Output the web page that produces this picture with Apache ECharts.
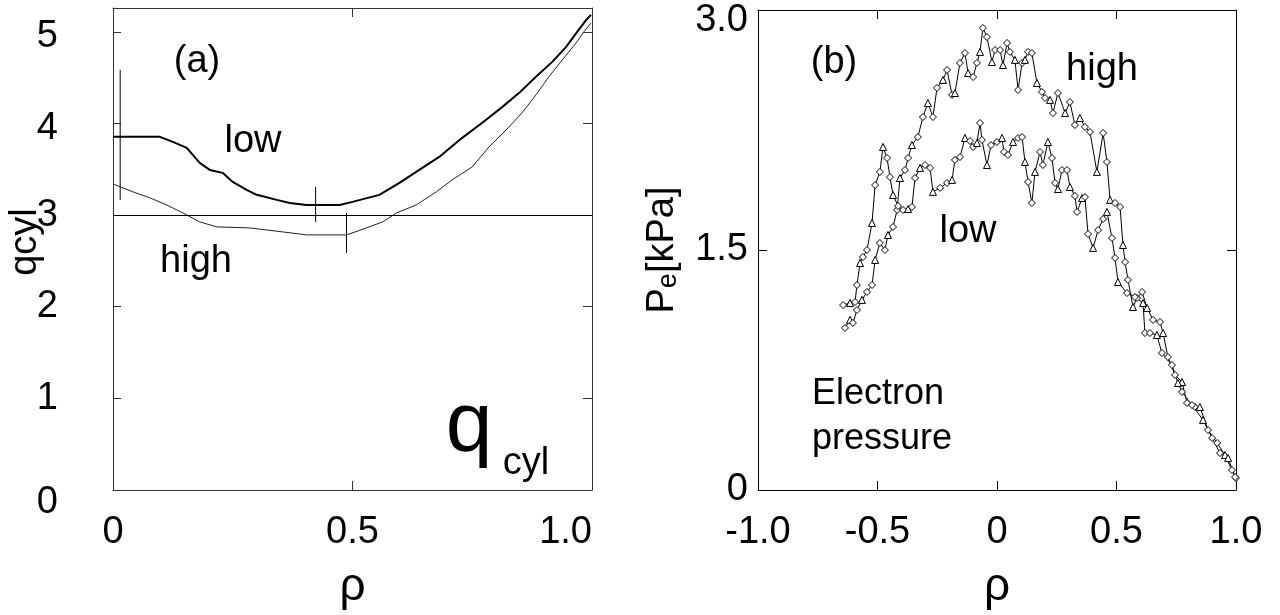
<!DOCTYPE html>
<html>
<head>
<meta charset="utf-8">
<script src="https://cdn.jsdelivr.net/npm/echarts@6/dist/echarts.min.js"></script>
<style>html,body{margin:0;padding:0;background:#fff}#c{width:1280px;height:615px}</style>
</head>
<body>
<div id="c"></div>
<script>
// ---- Panel (a): q_cyl profiles [rho, q]
const qLow = [[0,3.854],[0.077,3.854],[0.098,3.854],[0.125,3.799],[0.154,3.734],[0.181,3.570],[0.202,3.493],[0.229,3.461],[0.25,3.362],[0.279,3.275],[0.300,3.221],[0.342,3.166],[0.369,3.133],[0.404,3.111],[0.473,3.111],[0.5,3.144],[0.556,3.221],[0.598,3.352],[0.633,3.472],[0.681,3.635],[0.729,3.843],[0.771,4.007],[0.813,4.181],[0.848,4.334],[0.883,4.509],[0.917,4.672],[0.946,4.836],[0.969,5.0],[0.988,5.131],[0.998,5.186]];
const qHigh = [[0,3.341],[0.015,3.308],[0.042,3.253],[0.077,3.188],[0.112,3.111],[0.146,3.024],[0.181,2.926],[0.217,2.871],[0.285,2.860],[0.354,2.817],[0.404,2.784],[0.488,2.784],[0.529,2.860],[0.563,2.926],[0.592,3.024],[0.633,3.111],[0.675,3.253],[0.708,3.384],[0.75,3.526],[0.785,3.745],[0.821,3.930],[0.854,4.116],[0.883,4.312],[0.910,4.509],[0.938,4.694],[0.967,4.880],[0.983,5.0],[0.998,5.098]];
const qMarkV1 = [[0.015,3.166],[0.015,4.585]];
const qMarkV2 = [[0.423,2.926],[0.423,3.308]];
const qMarkH2 = [[0.400,3.111],[0.448,3.111]];
const qMarkV3 = [[0.4875,2.587],[0.4875,3.024]];
const qRef = 3;
const aXTicks = [0, 0.5, 1.0];
const aYTicks = [0, 1, 2, 3, 4, 5];

// ---- Panel (b): electron pressure [rho, Pe kPa]
const peHigh = [[-0.636,1.013],[-0.615,1.063],[-0.603,1.044],[-0.586,1.125],[-0.565,1.188],[-0.544,1.238],[-0.523,1.281],[-0.510,1.438],[-0.490,1.544],[-0.469,1.500],[-0.456,1.594],[-0.435,1.644],[-0.418,1.750],[-0.406,1.950],[-0.385,2.000],[-0.372,2.075],[-0.356,2.156],[-0.331,2.206],[-0.310,2.331],[-0.289,2.419],[-0.268,2.331],[-0.251,2.513],[-0.226,2.563],[-0.209,2.625],[-0.188,2.469],[-0.176,2.481],[-0.155,2.669],[-0.134,2.731],[-0.121,2.606],[-0.100,2.581],[-0.084,2.669],[-0.071,2.738],[-0.059,2.888],[-0.042,2.831],[-0.021,2.675],[-0.008,2.750],[0.013,2.750],[0.025,2.656],[0.042,2.794],[0.054,2.738],[0.075,2.688],[0.088,2.500],[0.105,2.669],[0.117,2.688],[0.130,2.738],[0.146,2.731],[0.167,2.544],[0.188,2.488],[0.201,2.450],[0.222,2.438],[0.234,2.356],[0.255,2.481],[0.285,2.356],[0.305,2.425],[0.326,2.281],[0.347,2.325],[0.368,2.269],[0.389,2.238],[0.418,1.988],[0.444,2.231],[0.460,2.050],[0.473,1.813],[0.494,1.794],[0.515,1.769],[0.527,1.531],[0.536,1.425],[0.548,1.313],[0.569,1.144],[0.586,1.200],[0.607,1.238],[0.628,1.138],[0.653,1.063],[0.682,1.050],[0.695,0.981],[0.715,0.831],[0.745,0.719],[0.774,0.675],[0.795,0.544],[0.828,0.519],[0.849,0.519],[0.883,0.375],[0.921,0.294],[0.954,0.219],[0.983,0.125],[1.0,0.075]];
const peLow = [[-0.644,1.156],[-0.615,1.169],[-0.594,1.175],[-0.586,1.281],[-0.573,1.419],[-0.561,1.456],[-0.544,1.500],[-0.523,1.669],[-0.510,1.906],[-0.490,1.988],[-0.477,2.144],[-0.460,2.075],[-0.448,1.956],[-0.435,1.844],[-0.414,1.775],[-0.393,1.750],[-0.372,1.756],[-0.356,1.769],[-0.343,1.950],[-0.322,2.013],[-0.301,2.031],[-0.280,2.013],[-0.268,1.863],[-0.238,1.888],[-0.209,1.919],[-0.188,1.938],[-0.176,2.063],[-0.155,2.081],[-0.134,2.200],[-0.113,2.181],[-0.100,2.144],[-0.084,2.169],[-0.071,2.294],[-0.063,2.188],[-0.042,2.031],[-0.025,2.156],[0,2.175],[0.021,2.200],[0.029,2.113],[0.046,2.094],[0.067,2.175],[0.088,2.200],[0.105,2.206],[0.117,2.050],[0.130,1.925],[0.146,1.794],[0.159,1.988],[0.180,2.113],[0.192,2.031],[0.213,2.175],[0.230,2.075],[0.243,1.919],[0.255,1.881],[0.272,2.000],[0.293,2.000],[0.305,1.894],[0.326,1.838],[0.335,1.738],[0.356,1.825],[0.368,1.831],[0.381,1.600],[0.402,1.513],[0.423,1.625],[0.444,1.694],[0.460,1.738],[0.481,1.575],[0.494,1.450],[0.506,1.300],[0.544,1.231],[0.577,1.206],[0.611,1.169],[0.619,0.981],[0.640,0.981],[0.669,0.969],[0.690,0.856],[0.732,0.781],[0.757,0.669],[0.774,0.613],[0.816,0.531],[0.862,0.438],[0.900,0.325],[0.933,0.231],[0.967,0.200],[0.996,0.081]];
const bXTicks = [-1.0, -0.5, 0, 0.5, 1.0];
const bYTicks = [0, 1.5, 3.0];

const FF = '"Liberation Sans", Arial, sans-serif';
const fmt1 = v => (Math.abs(v) < 1e-9 ? '0' : v.toFixed(1));

const chart = echarts.init(document.getElementById('c'), null, {renderer: 'canvas'});

function frameAxis(extra, color) {
  return Object.assign({
    axisLine: {show: true, onZero: false, lineStyle: {color: color, width: 1}},
    axisTick: {show: true, inside: true, length: 9, lineStyle: {color: color}},
    axisLabel: {show: false},
    splitLine: {show: false}
  }, extra);
}

const lineSeries = (data, xi, yi, color, width) => ({
  type: 'line', xAxisIndex: xi, yAxisIndex: yi, data: data,
  showSymbol: false, symbol: 'none', silent: true, animation: false,
  lineStyle: {color: color, width: width}
});

const markerSym = (v, p) => (p.dataIndex % 3 === 1 ? 'triangle' : 'diamond');

const lab = {fontSize: 38, fontFamily: FF, color: '#000'};

const option = {
  backgroundColor: '#fff',
  animation: false,
  grid: [
    {left: 113, right: 688, top: 8, bottom: 125, outerBoundsMode: 'none', containLabel: false},
    {left: 758, right: 44, top: 10, bottom: 125, outerBoundsMode: 'none', containLabel: false}
  ],
  xAxis: [
    // (a) bottom
    {gridIndex: 0, type: 'value', min: 0, max: 1, interval: 0.5, position: 'bottom',
     name: 'ρ', nameLocation: 'middle', nameGap: 74, nameMoveOverlap: false,
     nameTextStyle: {fontSize: 46, fontFamily: FF, color: '#000'},
     axisLine: {show: true, onZero: false, lineStyle: {color: '#333'}},
     axisTick: {show: true, inside: true, length: 9, lineStyle: {color: '#333'}},
     axisLabel: {fontSize: 38, fontFamily: FF, color: '#000', margin: 24, formatter: v => (v === 0 ? '0' : v.toFixed(1)), alignMaxLabel: 'right'},
     splitLine: {show: false}},
    // (a) top
    frameAxis({gridIndex: 0, type: 'value', min: 0, max: 1, interval: 0.5, position: 'top'}, '#333'),
    // (b) bottom
    {gridIndex: 1, type: 'value', min: -1, max: 1, interval: 0.5, position: 'bottom',
     name: 'ρ', nameLocation: 'middle', nameGap: 74, nameMoveOverlap: false,
     nameTextStyle: {fontSize: 46, fontFamily: FF, color: '#000'},
     axisLine: {show: true, onZero: false, lineStyle: {color: '#000'}},
     axisTick: {show: true, inside: true, length: 9, lineStyle: {color: '#000'}},
     axisLabel: {fontSize: 38, fontFamily: FF, color: '#000', margin: 24, formatter: fmt1},
     splitLine: {show: false}},
    // (b) top
    frameAxis({gridIndex: 1, type: 'value', min: -1, max: 1, interval: 0.5, position: 'top'}, '#000')
  ],
  yAxis: [
    // (a) left
    {gridIndex: 0, type: 'value', min: 0, max: 5.26, interval: 1, position: 'left',
     name: 'qcyl', nameLocation: 'middle', nameGap: 68, nameRotate: 90, nameMoveOverlap: false,
     nameTextStyle: {fontSize: 38, fontFamily: FF, color: '#000', padding: [0, 0, 0, 14]},
     axisLine: {show: true, onZero: false, lineStyle: {color: '#333'}},
     axisTick: {show: true, inside: true, length: 8, lineStyle: {color: '#333'}},
     axisLabel: {fontSize: 38, fontFamily: FF, color: '#000', margin: 55, showMaxLabel: false,
       formatter: v => (v === 0 ? '{d0|0}' : (v >= 4 ? '{d5|' + v + '}' : '{n|' + v + '}')),
       rich: {d0: Object.assign({padding: [26, 0, 0, 0]}, lab), d5: Object.assign({padding: [10, 0, 0, 0]}, lab), n: lab}},
     splitLine: {show: false}},
    // (a) right
    frameAxis({gridIndex: 0, type: 'value', min: 0, max: 5.26, interval: 1, position: 'right'}, '#333'),
    // (b) left
    {gridIndex: 1, type: 'value', min: 0, max: 3, interval: 1.5, position: 'left',
     name: '{p|P}{s|e}{p|[kPa]}', nameLocation: 'middle', nameGap: 76, nameRotate: 90, nameMoveOverlap: false,
     nameTextStyle: {fontSize: 36, fontFamily: FF, color: '#000',
       rich: {p: {fontSize: 38, fontFamily: FF, color: '#000'},
              s: {fontSize: 27, fontFamily: FF, color: '#000', verticalAlign: 'bottom'}}},
     axisLine: {show: true, onZero: false, lineStyle: {color: '#000'}},
     axisTick: {show: true, inside: true, length: 9, lineStyle: {color: '#000'}},
     axisLabel: {fontSize: 38, fontFamily: FF, color: '#000', margin: 10,
       formatter: v => (v >= 3 ? '{t|' + fmt1(v) + '}' : '{n|' + fmt1(v) + '}'),
       rich: {t: Object.assign({padding: [22, 0, 0, 0]}, lab), n: lab}},
     splitLine: {show: false}},
    // (b) right
    frameAxis({gridIndex: 1, type: 'value', min: 0, max: 3, interval: 1.5, position: 'right'}, '#000')
  ],
  series: [
    Object.assign(lineSeries(qLow, 0, 0, '#000', 2), {
      markLine: {silent: true, symbol: 'none', label: {show: false},
        lineStyle: {color: '#000', width: 1, type: 'solid'}, data: [{yAxis: qRef}]}
    }),
    lineSeries(qHigh, 0, 0, '#222', 1),
    lineSeries(qMarkV1, 0, 0, '#000', 1),
    lineSeries(qMarkV2, 0, 0, '#000', 1),
    lineSeries(qMarkH2, 0, 0, '#000', 1),
    lineSeries(qMarkV3, 0, 0, '#000', 1),
    {type: 'line', xAxisIndex: 2, yAxisIndex: 2, data: peHigh, silent: true,
     symbol: markerSym, symbolSize: 7, showAllSymbol: true,
     itemStyle: {color: '#fff', borderColor: '#000', borderWidth: 1},
     lineStyle: {color: '#000', width: 1}},
    {type: 'line', xAxisIndex: 2, yAxisIndex: 2, data: peLow, silent: true,
     symbol: markerSym, symbolSize: 7, showAllSymbol: true,
     itemStyle: {color: '#fff', borderColor: '#000', borderWidth: 1},
     lineStyle: {color: '#000', width: 1}}
  ],
  graphic: [
    {type: 'text', x: 197, y: 62, style: {text: '(a)', fontSize: 38, fontFamily: FF, fill: '#000', align: 'center', verticalAlign: 'middle'}},
    {type: 'text', x: 253, y: 142, style: {text: 'low', fontSize: 38, fontFamily: FF, fill: '#000', align: 'center', verticalAlign: 'middle'}},
    {type: 'text', x: 196, y: 262, style: {text: 'high', fontSize: 38, fontFamily: FF, fill: '#000', align: 'center', verticalAlign: 'middle'}},
    {type: 'text', x: 469, y: 428, style: {text: 'q', fontSize: 84, fontFamily: FF, fill: '#000', align: 'center', verticalAlign: 'middle'}},
    {type: 'text', x: 526, y: 464, style: {text: 'cyl', fontSize: 38, fontFamily: FF, fill: '#000', align: 'center', verticalAlign: 'middle'}},
    {type: 'text', x: 834, y: 63, style: {text: '(b)', fontSize: 38, fontFamily: FF, fill: '#000', align: 'center', verticalAlign: 'middle'}},
    {type: 'text', x: 1102, y: 70, style: {text: 'high', fontSize: 38, fontFamily: FF, fill: '#000', align: 'center', verticalAlign: 'middle'}},
    {type: 'text', x: 968, y: 232, style: {text: 'low', fontSize: 38, fontFamily: FF, fill: '#000', align: 'center', verticalAlign: 'middle'}},
    {type: 'text', x: 812, y: 394, style: {text: 'Electron', fontSize: 36, fontFamily: FF, fill: '#000', align: 'left', verticalAlign: 'middle'}},
    {type: 'text', x: 812, y: 439, style: {text: 'pressure', fontSize: 36, fontFamily: FF, fill: '#000', align: 'left', verticalAlign: 'middle'}}
  ]
};
chart.setOption(option);
</script>
</body>
</html>
